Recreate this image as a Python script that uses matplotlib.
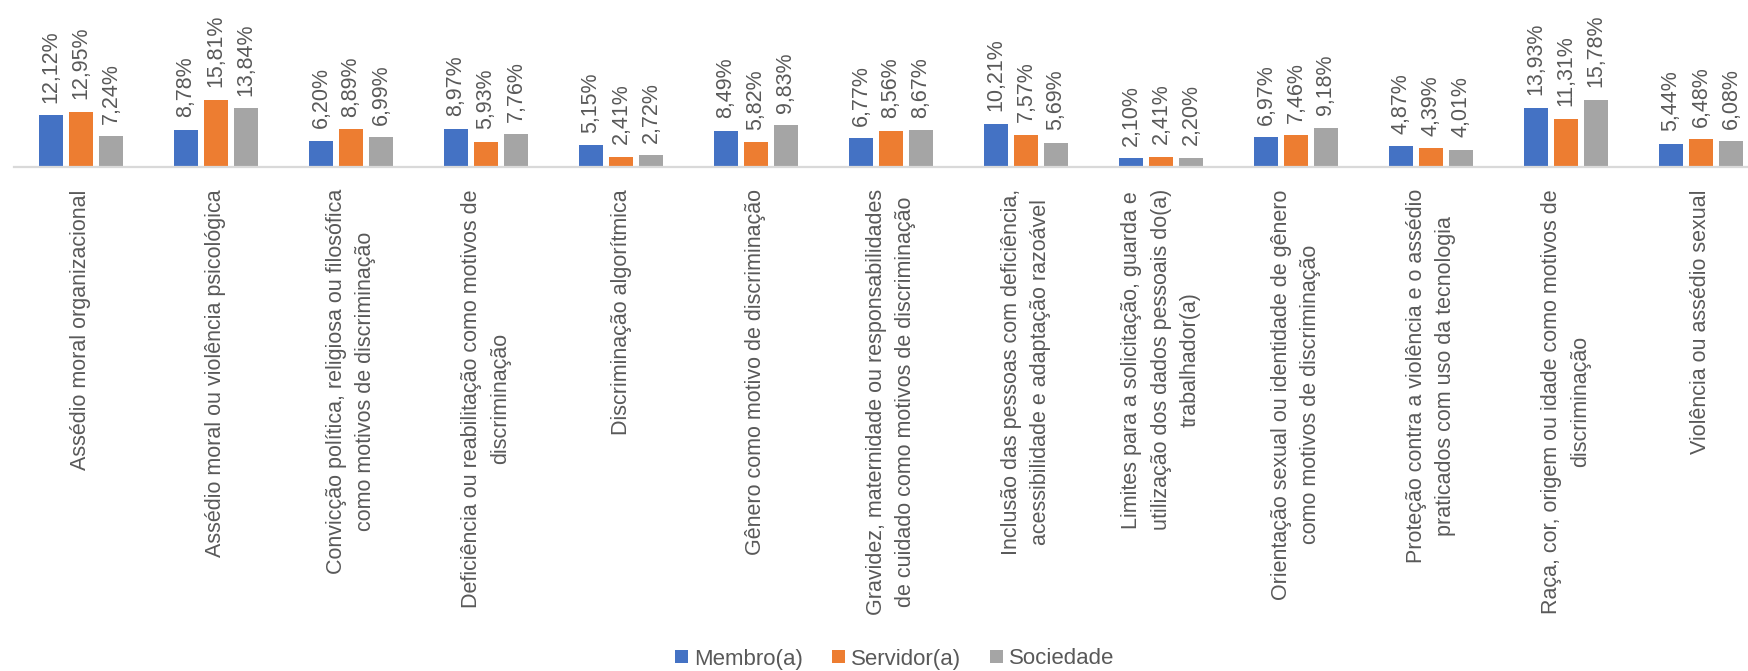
import matplotlib

matplotlib.use("Agg")

import matplotlib.pyplot as plt
import numpy as np
from matplotlib.patches import Patch

categories = [
    "Assédio moral organizacional",
    "Assédio moral ou violência psicológica",
    "Convicção política, religiosa ou filosófica\ncomo motivos de discriminação",
    "Deficiência ou reabilitação como motivos de\ndiscriminação",
    "Discriminação algorítmica",
    "Gênero como motivo de discriminação",
    "Gravidez, maternidade ou responsabilidades\nde cuidado como motivos de discriminação",
    "Inclusão das pessoas com deficiência,\nacessibilidade e adaptação razoável",
    "Limites para a solicitação, guarda e\nutilização dos dados pessoais do(a)\ntrabalhador(a)",
    "Orientação sexual ou identidade de gênero\ncomo motivos de discriminação",
    "Proteção contra a violência e o assédio\npraticados com uso da tecnologia",
    "Raça, cor, origem ou idade como motivos de\ndiscriminação",
    "Violência ou assédio sexual",
]

membro = [12.12, 8.78, 6.20, 8.97, 5.15, 8.49, 6.77, 10.21, 2.10, 6.97, 4.87, 13.93, 5.44]
servidor = [12.95, 15.81, 8.89, 5.93, 2.41, 5.82, 8.56, 7.57, 2.41, 7.46, 4.39, 11.31, 6.48]
sociedade = [7.24, 13.84, 6.99, 7.76, 2.72, 9.83, 8.67, 5.69, 2.20, 9.18, 4.01, 15.78, 6.08]

series_names = ["Membro(a)", "Servidor(a)", "Sociedade"]
series_colors = ["#4472C4", "#ED7D31", "#A5A5A5"]
text_color = "#595959"

plt.rcParams["font.family"] = ["Liberation Sans", "DejaVu Sans"]

W, H = 1749, 671
fig = plt.figure(figsize=(W / 100, H / 100), dpi=100)

# one category slot is 135 px wide; the baseline sits 167 px from the top
slot = 135.0
left = 13.5
bottom = (H - 167) / H
ax = fig.add_axes([left / W, bottom, 13 * slot / W, 85 / H])
ax.set_xlim(-0.5, 12.5)
ax.set_ylim(0, 20)

x = np.arange(len(categories))
step = 0.222
width = 0.174
for i, (vals, name, color) in enumerate(zip([membro, servidor, sociedade], series_names, series_colors)):
    pos = x + (i - 1) * step
    ax.bar(pos, vals, width=width, color=color, label=name, zorder=2)
    for px, v in zip(pos, vals):
        ax.annotate("{0:.2f}%".format(v).replace(".", ","), (px, v),
                    xytext=(0, 9), textcoords="offset points",
                    rotation=90, ha="center", va="bottom",
                    fontsize=15.5, color=text_color, annotation_clip=False)

for side in ["left", "right", "top"]:
    ax.spines[side].set_visible(False)
ax.spines["bottom"].set_color("#D9D9D9")
ax.spines["bottom"].set_linewidth(1.6)
ax.set_yticks([])
ax.set_xticks(x)
ax.set_xticklabels(categories, rotation=90, ha="center", va="top",
                   multialignment="center", fontsize=15.5, color=text_color,
                   linespacing=1.5)
ax.tick_params(axis="x", length=0, pad=16)
ax.patch.set_alpha(0)

handles = [Patch(facecolor=c, edgecolor="none") for c in series_colors]
fig.legend(handles, series_names, loc="center", bbox_to_anchor=(895 / W, 12 / H),
           ncol=3, frameon=False, fontsize=16, labelcolor=text_color,
           handlelength=0.56, handleheight=0.56, handletextpad=0.3,
           columnspacing=1.3)

fig.savefig("out.png", dpi=100)
